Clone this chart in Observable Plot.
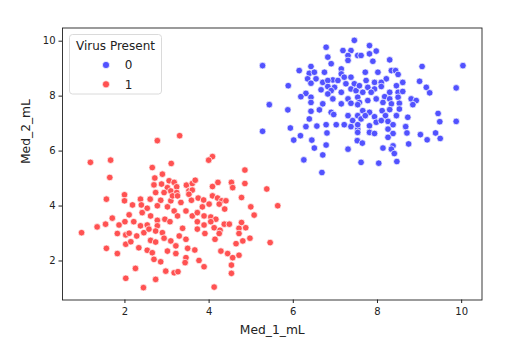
<!DOCTYPE html>
<html><head><meta charset="utf-8">
<script src="https://cdn.jsdelivr.net/npm/d3@7"></script>
<script src="https://cdn.jsdelivr.net/npm/@observablehq/plot@0.6"></script>
<style>
html,body{margin:0;padding:0;background:#fff}
#chart{width:523px;height:352px}
</style>
</head><body><div id="chart"></div>
<script>
// Virus Present = 0 : [Med_1_mL, Med_2_mL]
const absentPoints = [
[7.45,10.03],[6.78,9.78],[7.18,9.66],[7.37,9.66],[7.30,9.48],[7.53,9.48],[6.82,9.42],[7.30,9.30],[6.90,9.18],[5.27,9.11],
[6.42,9.08],[6.14,8.93],[7.14,8.99],[7.14,8.81],[6.38,8.83],[6.50,8.87],[6.74,8.87],[6.34,8.63],[6.54,8.63],[6.94,8.59],
[7.21,8.69],[7.37,8.69],[6.70,8.50],[6.82,8.57],[7.06,8.57],[6.42,8.47],[7.25,8.45],[7.45,8.45],[5.88,8.38],[6.82,8.35],
[6.98,8.32],[6.66,8.23],[6.90,8.20],[7.37,8.26],[7.14,8.14],[7.49,8.20],[6.30,8.10],[6.18,7.98],[6.42,7.96],[6.82,8.08],
[6.94,7.90],[7.30,7.90],[7.53,7.96],[5.43,7.69],[6.42,7.77],[6.70,7.72],[7.14,7.72],[7.37,7.74],
[7.81,9.84],[10.03,9.11],[7.97,9.64],[7.81,9.54],[7.61,9.48],[7.89,9.27],[8.29,9.32],[9.06,9.08],[7.71,8.87],[8.01,8.87],
[8.33,8.93],[8.43,8.93],[8.49,8.79],[8.21,8.63],[7.73,8.57],[7.93,8.50],[8.09,8.50],[8.60,8.50],[9.00,8.54],[7.57,8.38],
[7.77,8.32],[7.93,8.26],[8.09,8.35],[8.45,8.38],[9.16,8.32],[9.87,8.30],[7.65,8.14],[7.85,8.14],[8.29,8.14],[8.49,8.14],
[8.60,8.17],[9.24,8.12],[8.17,7.98],[7.97,7.90],[7.77,7.84],[8.29,7.90],[8.49,7.96],[8.80,7.90],[8.92,7.84],[7.57,7.77],[8.13,7.77],
[5.87,7.50],[7.53,7.69],[6.42,7.45],[6.62,7.50],[6.90,7.41],[6.96,7.33],[7.30,7.29],[7.53,7.29],[6.38,7.17],[7.41,7.11],[7.61,7.17],
[5.27,6.72],[5.93,6.84],[6.30,6.89],[6.56,6.91],[6.78,6.96],[7.02,6.96],[7.21,6.96],[7.37,6.89],[7.53,6.80],[6.80,6.66],
[6.17,6.56],[6.01,6.40],[6.44,6.40],[7.52,6.38],[6.78,6.22],[6.50,6.11],[7.30,6.07],[6.70,5.86],[7.61,5.59],[6.25,5.68],[6.68,5.22],
[8.33,7.72],[8.52,7.74],[8.84,7.69],[7.65,7.47],[7.81,7.41],[8.11,7.47],[8.29,7.51],[8.52,7.53],[7.71,7.29],[7.93,7.25],
[8.19,7.29],[8.45,7.29],[8.72,7.23],[9.44,7.37],[7.97,7.05],[8.09,7.11],[8.25,7.08],[8.37,6.96],[9.48,7.07],[9.87,7.08],
[7.53,6.96],[7.81,6.92],[8.67,6.89],[8.25,6.80],[7.53,6.68],[7.81,6.68],[7.93,6.64],[8.37,6.64],[8.70,6.66],[9.02,6.60],
[9.38,6.66],[8.25,6.50],[9.18,6.41],[9.49,6.46],[7.64,6.29],[8.74,6.26],[8.37,6.19],[8.13,6.11],[8.33,6.07],[8.40,5.91],
[8.03,5.56],[8.46,5.62]
];

// Virus Present = 1 : [Med_1_mL, Med_2_mL]
const presentPoints = [
[2.77,6.38],[1.18,5.59],[1.66,5.67],[2.65,5.40],[3.10,5.55],[1.64,5.04],[2.89,5.16],[2.71,5.02],[3.05,4.92],[2.69,4.77],
[2.87,4.80],[3.17,4.86],[3.01,4.67],[2.73,4.49],[2.93,4.49],[3.09,4.55],[1.99,4.41],[1.56,4.25],[1.99,4.19],[2.37,4.25],
[2.60,4.25],[2.85,4.21],[3.09,4.19],[2.18,4.04],[2.39,4.04],
[3.30,6.56],[4.08,5.80],[3.99,5.67],[4.85,5.31],[3.46,4.76],[3.60,4.82],[3.67,4.94],[4.21,4.86],[4.53,4.86],[4.85,4.82],
[4.08,4.71],[4.56,4.67],[5.37,4.62],[3.23,4.70],[3.23,4.49],[3.52,4.55],[3.60,4.58],[3.13,4.37],[3.25,4.37],[3.52,4.43],
[4.08,4.37],[4.77,4.31],[3.74,4.29],[3.87,4.22],[4.20,4.29],[4.30,4.19],[4.40,4.19],[3.33,4.13],[3.58,4.21],[4.00,4.07],
[4.24,4.07],[4.99,3.97],[5.63,4.01],
[0.97,3.03],[1.34,3.24],[1.54,3.34],[1.70,3.56],[1.86,3.31],[2.00,3.43],[2.10,3.68],[2.53,3.92],[2.77,4.01],[3.01,3.97],
[3.17,3.82],[2.41,3.76],[2.61,3.64],[2.21,3.43],[2.37,3.28],[2.53,3.31],[2.77,3.48],[2.95,3.52],[3.07,3.43],[2.77,3.28],
[1.82,3.00],[2.02,2.95],[2.10,3.01],[2.28,2.91],[2.45,3.03],[2.57,3.16],[2.73,3.09],[2.89,3.03],[2.02,2.61],[2.14,2.70],
[2.61,2.75],[2.73,2.69],[2.93,2.83],[3.09,2.73],[1.56,2.46],[1.82,2.27],[2.33,2.48],[2.53,2.39],[2.65,2.30],[3.01,2.36],
[2.69,2.06],[2.85,1.97],[2.25,1.73],[2.97,1.63],[3.17,1.57],[2.02,1.37],[2.73,1.33],[2.44,1.03],
[3.84,3.97],[4.37,3.89],[3.45,3.82],[3.60,3.64],[3.72,3.76],[5.07,3.67],[3.25,3.64],[3.88,3.64],[4.04,3.60],[4.16,3.52],
[3.72,3.43],[4.04,3.43],[4.36,3.34],[4.48,3.34],[4.77,3.40],[4.87,3.21],[3.88,3.31],[3.37,3.19],[3.72,3.16],[4.12,3.21],
[4.26,3.12],[4.71,3.19],[3.90,3.00],[4.24,3.00],[4.71,3.00],[3.29,2.91],[3.45,2.79],[4.14,2.79],[4.80,2.73],[4.97,2.83],
[5.45,2.67],[4.64,2.63],[3.21,2.55],[3.49,2.46],[3.66,2.40],[4.28,2.36],[4.44,2.27],[4.71,2.21],[3.21,2.27],[3.45,2.12],
[4.56,2.12],[3.43,1.94],[3.76,2.02],[3.88,1.79],[4.53,1.85],[3.26,1.61],[4.53,1.55],[4.12,1.05]
];

const classes = ["0", "1"];
const classColors = ["#5252ff", "#ff5252"];
const xTicks = [2, 4, 6, 8, 10];
const yTicks = [2, 4, 6, 8, 10];
const xLabel = "Med_1_mL";
const yLabel = "Med_2_mL";
const legendTitle = "Virus Present";

const rows = [
  ...absentPoints.map(([a, b]) => ({med1: a, med2: b, virus: classes[0]})),
  ...presentPoints.map(([a, b]) => ({med1: a, med2: b, virus: classes[1]}))
];

function padded(ext) { const p = (ext[1] - ext[0]) * 0.05; return [ext[0] - p, ext[1] + p]; }
const xDom = padded(d3.extent(rows, d => d.med1));
const yDom = padded(d3.extent(rows, d => d.med2));

const FONT = "DejaVu Sans, sans-serif";
const chart = Plot.plot({
  width: 523, height: 352,
  marginLeft: 62, marginRight: 41.5, marginTop: 27.5, marginBottom: 52.5,
  style: {fontFamily: FONT, fontSize: "10px", color: "#222", background: "#fff", overflow: "visible"},
  x: {domain: xDom},
  y: {domain: yDom},
  color: {domain: classes, range: classColors},
  marks: [
    Plot.axisX({ticks: xTicks, tickSize: 3.5, tickPadding: 4, fontSize: 10, label: null, stroke: "#222", fill: "#222"}),
    Plot.axisY({ticks: yTicks, tickSize: 3.5, tickPadding: 3.5, fontSize: 10, label: null, stroke: "#222", fill: "#222"}),
    Plot.dot(rows, {x: "med1", y: "med2", fill: "virus", r: 3.3, stroke: "#fff", strokeWidth: 0.7}),
    Plot.frame({stroke: "#222", strokeWidth: 0.9}),
    Plot.text([xLabel], {frameAnchor: "bottom", dy: 33.5, fontSize: 12.3, fill: "#222"}),
    Plot.text([yLabel], {frameAnchor: "left", dx: -36.5, rotate: -90, fontSize: 12.3, fill: "#222"})
  ]
});
document.getElementById("chart").appendChild(chart);

// Legend (seaborn-style box inside the axes)
const svg = d3.select(chart);
const lg = svg.append("g").attr("font-family", FONT);
lg.append("rect").attr("x", 69.5).attr("y", 34.5).attr("width", 92).attr("height", 59.5)
  .attr("rx", 3).attr("fill", "#fff").attr("fill-opacity", 0.8)
  .attr("stroke", "#d6d6d6").attr("stroke-width", 0.9);
lg.append("text").attr("x", 115.5).attr("y", 50).attr("text-anchor", "middle")
  .attr("font-size", 12).attr("fill", "#222").text(legendTitle);
classes.forEach((c, i) => {
  lg.append("circle").attr("cx", 106).attr("cy", 65 + i * 19.3).attr("r", 3.6)
    .attr("fill", classColors[i]).attr("stroke", "#fff").attr("stroke-width", 0.7);
  lg.append("text").attr("x", 128.5).attr("y", 69.2 + i * 19.3)
    .attr("font-size", 12).attr("fill", "#222").text(c);
});
</script>
</body></html>
